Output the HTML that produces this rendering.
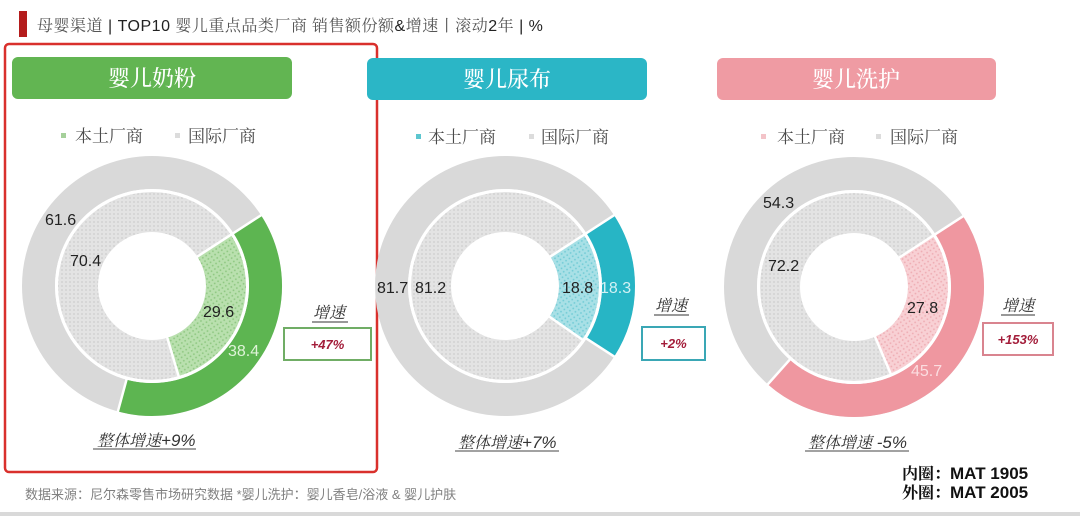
<!DOCTYPE html>
<html><head><meta charset="utf-8"><style>
html,body{margin:0;padding:0;background:#fff;}
svg{display:block;}
.cjk{font-family:"Noto Serif CJK SC","Liberation Serif",serif;}
.sans{font-family:"Liberation Sans","Noto Sans CJK SC",sans-serif;}
</style></head><body>
<svg width="1080" height="516" viewBox="0 0 1080 516" xmlns="http://www.w3.org/2000/svg">
<defs>
  <pattern id="pg" width="4" height="4" patternUnits="userSpaceOnUse">
    <rect width="4" height="4" fill="#e3e3e3"/><circle cx="2" cy="2" r="0.9" fill="#cdcdcd"/>
  </pattern>
  <pattern id="pgr" width="4" height="4" patternUnits="userSpaceOnUse">
    <rect width="4" height="4" fill="#b9e0ae"/><circle cx="2" cy="2" r="0.9" fill="#8cc67f"/>
  </pattern>
  <pattern id="pcy" width="4" height="4" patternUnits="userSpaceOnUse">
    <rect width="4" height="4" fill="#a8e0e6"/><circle cx="2" cy="2" r="0.9" fill="#6fcbd5"/>
  </pattern>
  <pattern id="ppk" width="4" height="4" patternUnits="userSpaceOnUse">
    <rect width="4" height="4" fill="#f8d0d4"/><circle cx="2" cy="2" r="0.9" fill="#eeabb2"/>
  </pattern>
</defs>
<rect width="1080" height="516" fill="#fff"/>

<!-- Title -->
<rect x="19" y="11" width="8" height="26" fill="#b41c1c"/>
<text x="37" y="31" font-size="16" fill="#555" letter-spacing="0.5"><tspan class="cjk">母婴渠道</tspan><tspan class="sans" fill="#222"> | TOP10 </tspan><tspan class="cjk">婴儿重点品类厂商 销售额份额</tspan><tspan class="sans" fill="#222">&amp;</tspan><tspan class="cjk">增速丨滚动</tspan><tspan class="sans" fill="#222">2</tspan><tspan class="cjk">年</tspan><tspan class="sans" fill="#222"> | %</tspan></text>

<!-- Red frame -->
<rect x="5" y="44" width="372" height="428" rx="4" fill="none" stroke="#d9302c" stroke-width="2.5"/>

<!-- Headers -->
<rect x="12" y="57" width="280" height="42" rx="6" fill="#62b552"/>
<text x="152" y="86" text-anchor="middle" class="cjk" font-size="22" font-weight="500" fill="#fff">婴儿奶粉</text>
<rect x="367" y="58" width="280" height="42" rx="6" fill="#2bb6c6"/>
<text x="507" y="87" text-anchor="middle" class="cjk" font-size="22" font-weight="500" fill="#fff">婴儿尿布</text>
<rect x="717" y="58" width="279" height="42" rx="6" fill="#ef9ba3"/>
<text x="856" y="87" text-anchor="middle" class="cjk" font-size="22" font-weight="500" fill="#fff">婴儿洗护</text>

<!-- Legends -->
<g class="cjk" font-size="17" fill="#4a4a4a">
  <rect x="61" y="133" width="5" height="5" fill="#a5d09a"/><text x="75" y="142">本土厂商</text>
  <rect x="175" y="133" width="5" height="5" fill="#dcdcdc"/><text x="188" y="142">国际厂商</text>
  <rect x="416" y="134" width="5" height="5" fill="#5cc6cf"/><text x="428" y="143">本土厂商</text>
  <rect x="529" y="134" width="5" height="5" fill="#dcdcdc"/><text x="541" y="143">国际厂商</text>
  <rect x="761" y="134" width="5" height="5" fill="#f3c3c8"/><text x="777" y="143">本土厂商</text>
  <rect x="876" y="134" width="5" height="5" fill="#dcdcdc"/><text x="890" y="143">国际厂商</text>
</g>

<!-- Chart 1 -->
<g>
  <circle cx="152" cy="286" r="113.5" fill="none" stroke="#d9d9d9" stroke-width="33"/>
  <circle cx="152" cy="286" r="113.5" fill="none" stroke="#5db551" stroke-width="33" stroke-dasharray="273.85 1000" transform="rotate(-33 152 286)"/>
  <circle cx="152" cy="286" r="74" fill="none" stroke="url(#pg)" stroke-width="40"/>
  <circle cx="152" cy="286" r="74" fill="none" stroke="url(#pgr)" stroke-width="40" stroke-dasharray="137.63 1000" transform="rotate(-33 152 286)"/>
  <circle cx="152" cy="286" r="95.5" fill="none" stroke="#fff" stroke-width="3"/>
  <g stroke="#fff" stroke-width="2.5">
    <line x1="196.5" y1="257.1" x2="261.9" y2="214.7"/>
    <line x1="126.8" y1="378.6" x2="117.6" y2="412.4"/>
    <line x1="167.0" y1="336.8" x2="178.9" y2="377.1"/>
  </g>
  <g class="sans" font-size="16" fill="#222">
    <text x="45" y="225">61.6</text>
    <text x="70" y="266">70.4</text>
    <text x="203" y="317">29.6</text>
    <text x="228" y="356" fill="#dff3d8">38.4</text>
  </g>
</g>

<!-- Chart 2 -->
<g>
  <circle cx="505" cy="286" r="113.5" fill="none" stroke="#d9d9d9" stroke-width="33"/>
  <circle cx="505" cy="286" r="113.5" fill="none" stroke="#27b5c5" stroke-width="33" stroke-dasharray="130.5 1000" transform="rotate(-33 505 286)"/>
  <circle cx="505" cy="286" r="74" fill="none" stroke="url(#pg)" stroke-width="40"/>
  <circle cx="505" cy="286" r="74" fill="none" stroke="url(#pcy)" stroke-width="40" stroke-dasharray="87.41 1000" transform="rotate(-33 505 286)"/>
  <circle cx="505" cy="286" r="95.5" fill="none" stroke="#fff" stroke-width="3"/>
  <g stroke="#fff" stroke-width="2.5">
    <line x1="549.5" y1="257.1" x2="614.9" y2="214.7"/>
    <line x1="585.6" y1="338.1" x2="615.0" y2="357.1"/>
    <line x1="548.6" y1="316.2" x2="583.1" y2="340.1"/>
  </g>
  <g class="sans" font-size="16" fill="#222">
    <text x="377" y="293">81.7</text>
    <text x="415" y="293">81.2</text>
    <text x="562" y="293">18.8</text>
    <text x="600" y="293" fill="#d2f1f4">18.3</text>
  </g>
</g>

<!-- Chart 3 -->
<g>
  <circle cx="854" cy="287" r="113.5" fill="none" stroke="#d9d9d9" stroke-width="33"/>
  <circle cx="854" cy="287" r="113.5" fill="none" stroke="#ef97a0" stroke-width="33" stroke-dasharray="325.9 1000" transform="rotate(-33 854 287)"/>
  <circle cx="854" cy="287" r="74" fill="none" stroke="url(#pg)" stroke-width="40"/>
  <circle cx="854" cy="287" r="74" fill="none" stroke="url(#ppk)" stroke-width="40" stroke-dasharray="129.26 1000" transform="rotate(-33 854 287)"/>
  <circle cx="854" cy="287" r="95.5" fill="none" stroke="#fff" stroke-width="3"/>
  <g stroke="#fff" stroke-width="2.5">
    <line x1="898.5" y1="258.1" x2="963.9" y2="215.7"/>
    <line x1="790.4" y1="358.9" x2="767.1" y2="385.1"/>
    <line x1="874.6" y1="335.8" x2="891.0" y2="374.5"/>
  </g>
  <g class="sans" font-size="16" fill="#222">
    <text x="763" y="208">54.3</text>
    <text x="768" y="271">72.2</text>
    <text x="907" y="313">27.8</text>
    <text x="911" y="376" fill="#fbdde0">45.7</text>
  </g>
</g>

<!-- Growth labels -->
<g class="cjk" font-size="16" font-style="italic" fill="#333">
  <text x="313" y="318">增速</text>
  <line x1="312" y1="322" x2="348" y2="322" stroke="#333" stroke-width="1"/>
  <text x="655" y="311">增速</text>
  <line x1="654" y1="315" x2="689" y2="315" stroke="#333" stroke-width="1"/>
  <text x="1002" y="311">增速</text>
  <line x1="1001" y1="315" x2="1035" y2="315" stroke="#333" stroke-width="1"/>
</g>
<rect x="284" y="328" width="87" height="32" fill="#fff" stroke="#70ad65" stroke-width="2"/>
<text x="327.5" y="349" text-anchor="middle" class="sans" font-size="13" font-weight="bold" font-style="italic" fill="#a31d3a">+47%</text>
<rect x="642" y="327" width="63" height="33" fill="#fff" stroke="#3aa7b5" stroke-width="2"/>
<text x="673.5" y="348" text-anchor="middle" class="sans" font-size="13" font-weight="bold" font-style="italic" fill="#a31d3a">+2%</text>
<rect x="983" y="323" width="70" height="32" fill="#fff" stroke="#d9848f" stroke-width="2"/>
<text x="1018" y="344" text-anchor="middle" class="sans" font-size="13" font-weight="bold" font-style="italic" fill="#a31d3a">+153%</text>

<!-- Overall growth -->
<g fill="#333" font-style="italic">
  <text x="97" y="446"><tspan class="cjk" font-size="16">整体增速</tspan><tspan class="sans" font-size="17">+9%</tspan></text>
  <line x1="93" y1="449" x2="196" y2="449" stroke="#444" stroke-width="1"/>
  <text x="458" y="448"><tspan class="cjk" font-size="16">整体增速</tspan><tspan class="sans" font-size="17">+7%</tspan></text>
  <line x1="455" y1="451" x2="559" y2="451" stroke="#444" stroke-width="1"/>
  <text x="808" y="448"><tspan class="cjk" font-size="16">整体增速</tspan><tspan class="sans" font-size="17"> -5%</tspan></text>
  <line x1="805" y1="451" x2="909" y2="451" stroke="#444" stroke-width="1"/>
</g>

<!-- Source -->
<text x="25" y="499" font-family="'Liberation Sans','Noto Sans CJK SC',sans-serif" font-size="13" fill="#808080">数据来源：尼尔森零售市场研究数据 *婴儿洗护：婴儿香皂/浴液 &amp; 婴儿护肤</text>

<!-- Inner/outer -->
<text x="902" y="479" fill="#111" font-weight="bold"><tspan class="cjk" font-size="16">内圈：</tspan><tspan class="sans" font-size="17">MAT 1905</tspan></text>
<text x="902" y="498" fill="#111" font-weight="bold"><tspan class="cjk" font-size="16">外圈：</tspan><tspan class="sans" font-size="17">MAT 2005</tspan></text>

<!-- bottom bar -->
<rect x="0" y="512" width="1080" height="4" fill="#d9d9d9"/>
</svg>
</body></html>
